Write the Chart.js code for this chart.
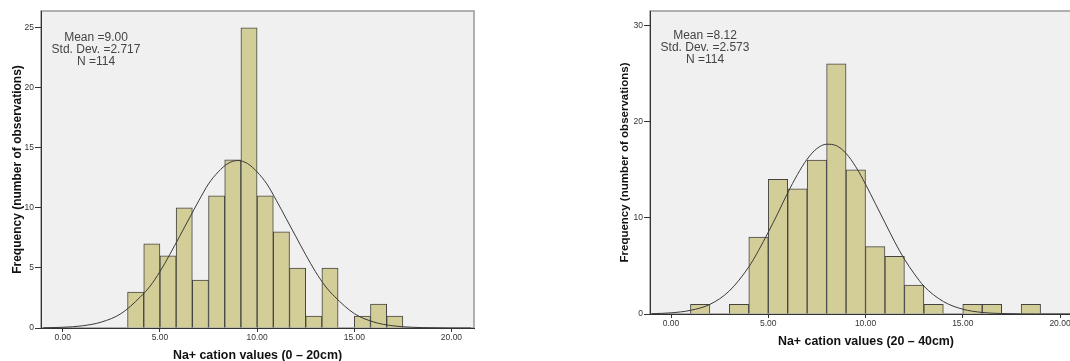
<!DOCTYPE html>
<html>
<head>
<meta charset="utf-8">
<script src="https://cdn.jsdelivr.net/npm/chart.js@4.4.1/dist/chart.umd.min.js"></script>
<style>
    html, body { margin: 0; padding: 0; background: #fff; overflow: hidden; width: 1070px; height: 361px; }
    .boite { position: absolute; top: 0; height: 361px; }
    #boiteA { left: 0; width: 480px; }
    #boiteB { left: 600px; width: 490px; }
</style>
</head>
<body>
<div class="boite" id="boiteA"><canvas id="histoA"></canvas></div>
<div class="boite" id="boiteB"><canvas id="histoB"></canvas></div>
<script>
// ******************** donnees lues sur les deux histogrammes ********************
// 0 - 20cm : centres des classes (largeur 0.833) et effectifs
var centresA = [3.750, 4.583, 5.417, 6.250, 7.083, 7.917, 8.750, 9.583, 10.417, 11.250, 12.083, 12.917, 13.750, 14.583, 15.417, 16.250, 17.083];
var effectifsA = [3, 7, 6, 10, 4, 11, 14, 25, 11, 8, 5, 1, 5, 0, 1, 2, 1];
// courbe normale superposee (lue point par point)
var courbeXA = [-1, 0, 1, 2, 3, 4, 4.5, 5, 5.5, 6, 6.5, 7, 7.5, 8, 8.5, 9, 9.5, 10, 10.5, 11, 11.5, 12, 12.5, 13, 13.5, 14, 15, 16, 17, 18, 19, 20, 21];
var courbeYA = [0.02, 0.06, 0.18, 0.5, 1.2, 2.6, 3.5, 4.7, 6.1, 7.6, 9.1, 10.6, 12.0, 13.0, 13.7, 13.95, 13.7, 13.0, 12.0, 10.6, 9.1, 7.6, 6.1, 4.7, 3.5, 2.6, 1.2, 0.5, 0.18, 0.06, 0.02, 0, 0];
var statsA = ["Mean =9.00", "Std. Dev. =2.717", "N =114"];

// 20 - 40cm : classes de largeur 1
var centresB = [1.5, 2.5, 3.5, 4.5, 5.5, 6.5, 7.5, 8.5, 9.5, 10.5, 11.5, 12.5, 13.5, 14.5, 15.5, 16.5, 17.5, 18.5];
var effectifsB = [1, 0, 1, 8, 14, 13, 16, 26, 15, 7, 6, 3, 1, 0, 1, 1, 0, 1];
var courbeXB = [-1, 0, 1, 2, 3, 4, 4.5, 5, 5.5, 6, 6.5, 7, 7.5, 8, 8.5, 9, 9.5, 10, 10.5, 11, 11.5, 12, 12.5, 13, 14, 15, 16, 17, 18, 19, 20, 21];
var courbeYB = [0.03, 0.12, 0.38, 1.0, 2.4, 4.9, 6.6, 8.5, 10.5, 12.6, 14.5, 16.1, 17.2, 17.65, 17.5, 16.7, 15.3, 13.5, 11.5, 9.5, 7.5, 5.7, 4.2, 2.9, 1.3, 0.5, 0.16, 0.05, 0.01, 0, 0, 0];
var statsB = ["Mean =8.12", "Std. Dev. =2.573", "N =114"];

var ticksX = [0, 5, 10, 15, 20];
var ticksYA = [0, 5, 10, 15, 20, 25];
var ticksYB = [0, 10, 20, 30];

var titreXA = "Na+ cation values (0 \u2013 20cm)";
var titreXB = "Na+ cation values (20 \u2013 40cm)";
var titreY = "Frequency (number of observations)";

var police = "Arial, 'Liberation Sans', sans-serif";

// fond gris + cadre du graphique
var cadre = {
    id: "cadre",
    beforeDraw: function (chart) {
        var a = chart.chartArea;
        var ctx = chart.ctx;
        ctx.save();
        ctx.fillStyle = "#f0f0f0";
        ctx.fillRect(a.left, a.top, a.right - a.left, a.bottom - a.top);
        ctx.strokeStyle = "#999";
        ctx.lineWidth = 1.5;
        ctx.strokeRect(a.left, a.top, a.right - a.left, a.bottom - a.top);
        ctx.restore();
    }
};

// texte Mean / Std. Dev. / N en haut a gauche
var statistiques = {
    id: "statistiques",
    afterDraw: function (chart, args, opts) {
        var a = chart.chartArea;
        var ctx = chart.ctx;
        ctx.save();
        ctx.font = "12px " + police;
        ctx.fillStyle = "#444";
        ctx.textAlign = "center";
        ctx.textBaseline = "middle";
        opts.lignes.forEach(function (l, i) {
            ctx.fillText(l, a.left + 55, a.top + opts.haut + i * 12);
        });
        ctx.restore();
    }
};

function creerHistogramme(id, r) {
    var barres = r.centres.map(function (c, i) { return { x: c, y: r.effectifs[i] }; });
    var courbe = r.courbeX.map(function (x, i) { return { x: x, y: r.courbeY[i] }; });

    return new Chart(document.getElementById(id), {
        type: "bar",
        data: {
            datasets: [
                {
                    type: "line",
                    data: courbe,
                    borderColor: "#3a3a3a",
                    borderWidth: 1,
                    pointRadius: 0,
                    fill: false,
                    cubicInterpolationMode: "monotone",
                    order: 0
                },
                {
                    data: barres,
                    backgroundColor: "#d3ce97",
                    borderColor: "#444",
                    borderWidth: 1,
                    barPercentage: 1,
                    categoryPercentage: 1,
                    order: 1
                }
            ]
        },
        options: {
            responsive: true,
            maintainAspectRatio: false,
            animation: false,
            layout: { padding: { top: 11, right: r.droite, left: 0, bottom: 0 } },
            plugins: {
                legend: { display: false },
                tooltip: { enabled: false },
                statistiques: { lignes: r.stats, haut: r.hautStats }
            },
            scales: {
                x: {
                    type: "linear",
                    offset: false,
                    min: r.xMin,
                    max: r.xMax,
                    afterBuildTicks: function (s) { s.ticks = ticksX.map(function (v) { return { value: v }; }); },
                    afterFit: function (s) { s.height = r.hautX; },
                    ticks: {
                        font: { family: police, size: 8.5 },
                        color: "#333",
                        padding: 1,
                        maxRotation: 0,
                        callback: function (v) { return v.toFixed(2); }
                    },
                    grid: { offset: false, drawOnChartArea: false, drawTicks: true, tickLength: 4, color: "#333" },
                    border: { display: true, color: "#333", width: 1 },
                    title: {
                        display: true,
                        text: r.titreX,
                        color: "#111",
                        font: { family: police, size: 12.4, weight: "bold", lineHeight: 0.8 },
                        padding: { top: 0, bottom: r.basTitreX }
                    }
                },
                y: {
                    min: 0,
                    max: r.yMax,
                    afterBuildTicks: function (s) { s.ticks = r.ticksY.map(function (v) { return { value: v }; }); },
                    afterFit: function (s) { s.width = r.largeurY; },
                    ticks: {
                        font: { family: police, size: 8.5 },
                        color: "#333",
                        padding: 1
                    },
                    grid: { drawOnChartArea: false, drawTicks: true, tickLength: 6, color: "#333" },
                    border: { display: true, color: "#333", width: 1 },
                    title: {
                        display: true,
                        text: titreY,
                        color: "#111",
                        font: { family: police, size: r.tailleTitreY, weight: "bold", lineHeight: 1.2 },
                        padding: { top: r.gaucheTitreY, bottom: 0 }
                    }
                }
            }
        },
        plugins: [cadre, statistiques]
    });
}

creerHistogramme("histoA", {
    centres: centresA, effectifs: effectifsA, courbeX: courbeXA, courbeY: courbeYA,
    stats: statsA, hautStats: 27, ticksY: ticksYA,
    xMin: -1.12, xMax: 21.16, yMax: 26.4,
    titreX: titreXA, hautX: 33, basTitreX: 0,
    largeurY: 41, tailleTitreY: 12, gaucheTitreY: 10,
    droite: 6
});

creerHistogramme("histoB", {
    centres: centresB, effectifs: effectifsB, courbeX: courbeXB, courbeY: courbeYB,
    stats: statsB, hautStats: 25, ticksY: ticksYB,
    xMin: -1.08, xMax: 21.13, yMax: 31.5,
    titreX: titreXB, hautX: 47, basTitreX: 14.3,
    largeurY: 50, tailleTitreY: 11.5, gaucheTitreY: 18,
    droite: 8
});
</script>
</body>
</html>
